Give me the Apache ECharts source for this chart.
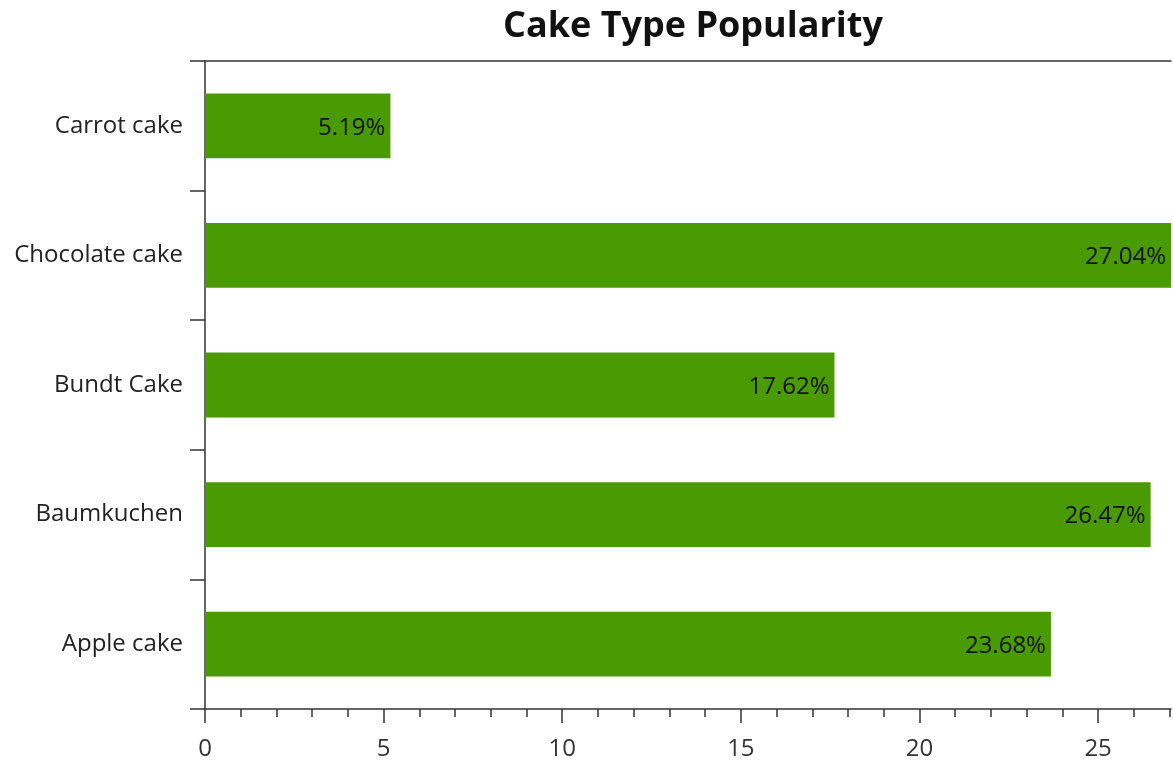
<!DOCTYPE html>
<html>
<head>
<meta charset="utf-8">
<script src="https://cdn.jsdelivr.net/npm/echarts@6/dist/echarts.min.js"></script>
<style>
html,body{margin:0;padding:0;background:#fff;}
#chart{width:1173px;height:763px;}
</style>
</head>
<body>
<div id="chart"></div>
<script>
const categories = ['Apple cake', 'Baumkuchen', 'Bundt Cake', 'Chocolate cake', 'Carrot cake'];
const values = [23.68, 26.47, 17.62, 27.04, 5.19];
const majorTicks = [0, 5, 10, 15, 20, 25];
const minorTicks = [0,1,2,3,4,5,6,7,8,9,10,11,12,13,14,15,16,17,18,19,20,21,22,23,24,25,26,27];
const axisMax = 27.04;

const FONT = 'Open Sans';
const lineStyle = { color: '#333', width: 1.5 };

const chart = echarts.init(document.getElementById('chart'));
chart.setOption({
  animation: false,
  backgroundColor: '#fff',
  title: {
    text: 'Cake Type Popularity',
    left: 688, textAlign: 'center', top: 4,
    textStyle: { fontFamily: FONT, fontSize: 36, fontWeight: 'bold', color: '#111' }
  },
  grid: { left: 205, right: 2, top: 61, bottom: 54, containLabel: false },
  xAxis: [
    {
      type: 'value', min: 0, max: axisMax, position: 'bottom',
      axisLine: { show: true, lineStyle: lineStyle },
      axisTick: { show: true, length: 14, customValues: majorTicks, lineStyle: lineStyle },
      axisLabel: { customValues: majorTicks, fontFamily: FONT, fontSize: 24, color: '#333', margin: 28 },
      splitLine: { show: false }
    },
    {
      type: 'value', min: 0, max: axisMax, position: 'bottom',
      axisLine: { show: false },
      axisTick: { show: true, length: 8, customValues: minorTicks, lineStyle: lineStyle },
      axisLabel: { show: false },
      splitLine: { show: false }
    },
    {
      type: 'value', min: 0, max: axisMax, position: 'top',
      axisLine: { show: true, lineStyle: lineStyle },
      axisTick: { show: false },
      axisLabel: { show: false },
      splitLine: { show: false }
    }
  ],
  yAxis: {
    type: 'category', data: categories,
    axisLine: { show: true, lineStyle: lineStyle },
    axisTick: { show: true, length: 15, lineStyle: lineStyle },
    axisLabel: { fontFamily: FONT, fontSize: 24, color: '#222', margin: 22 }
  },
  series: [{
    type: 'bar', xAxisIndex: 0, data: values, barWidth: '50%',
    itemStyle: { color: '#4a9a04' },
    label: {
      show: true, position: 'insideRight', distance: 5, offset: [0, 2],
      formatter: p => p.value.toFixed(2) + '%',
      fontFamily: FONT, fontSize: 24, color: '#111'
    }
  }]
});
</script>
</body>
</html>
